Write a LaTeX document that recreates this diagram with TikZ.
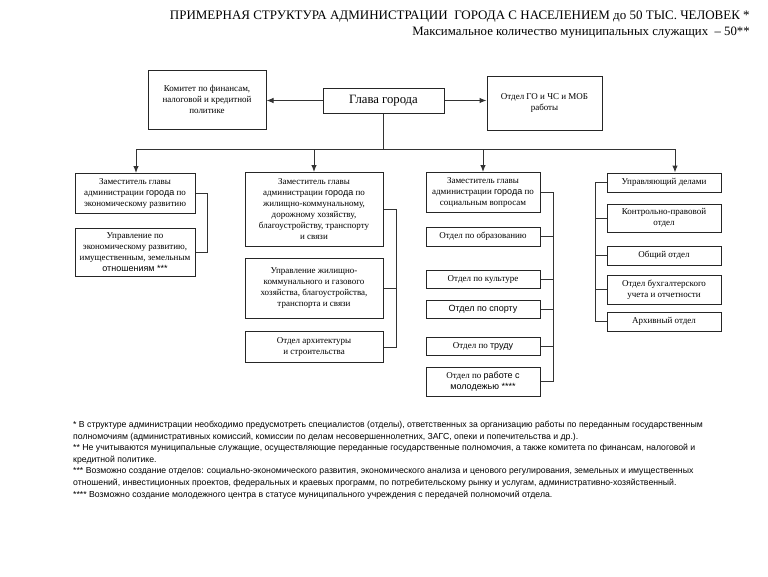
\documentclass[tikz,border=0pt]{standalone}
\usepackage{fontspec}
\setmainfont{Liberation Serif}
\newfontfamily\arialf{Liberation Sans}
\usetikzlibrary{arrows.meta,calc}
\begin{document}
\begin{tikzpicture}[x=1pt,y=-1pt,
 box/.style={draw=black!85, line width=1pt, fill=white, inner sep=0pt, align=center, font=\fontsize{9}{11}\selectfont},
 wire/.style={draw=black!80, line width=1pt},
 arr/.style={wire, -{Latex[length=7pt,width=5.5pt]}}]
\useasboundingbox (0,0) rectangle (768,576);
% titles
\node[anchor=east, font=\fontsize{13}{15}\selectfont, inner sep=0pt] (t1) at (750,17) {ПРИМЕРНАЯ СТРУКТУРА АДМИНИСТРАЦИИ \ ГОРОДА С НАСЕЛЕНИЕМ до 50 ТЫС. ЧЕЛОВЕК *};
\node[anchor=east, font=\fontsize{12.8}{15}\selectfont, inner sep=0pt] (t2) at (750,33) {Максимальное количество муниципальных служащих \ – 50**};
% top row
\node[box, minimum width=118pt, minimum height=59pt] (kom) at (207,99.5) {Комитет по финансам,\\ налоговой и кредитной\\ политике};
\node[box, minimum width=121pt, minimum height=25pt, font=\fontsize{12.7}{14}\selectfont] (glava) at (383.5,100.5) {Глава города};
\node[box, minimum width=115pt, minimum height=54pt] (go) at (544.5,103) {Отдел ГО и ЧС и МОБ\\ работы};
% column 1
\node[box, minimum width=120pt, minimum height=40pt] (d1) at (135,193.5) {Заместитель главы\\ администрации {\arialf города} по\\ экономическому развитию};
\node[box, minimum width=120pt, minimum height=48pt] (u1) at (135,252) {Управление по\\ экономическому развитию,\\ имущественным, земельным\\ {\arialf отношениям ***}};
% column 2
\node[box, minimum width=138pt, minimum height=74pt] (d2) at (314,209.5) {Заместитель главы\\ администрации {\arialf города} по\\ жилищно-коммунальному,\\ дорожному хозяйству,\\ благоустройству, транспорту\\ и связи};
\node[box, minimum width=138pt, minimum height=60pt] (u2) at (314,288) {Управление жилищно-\\ коммунального и газового\\ хозяйства, благоустройства,\\ транспорта и связи};
\node[box, minimum width=138pt, minimum height=31pt] (a2) at (314,347) {Отдел архитектуры\\ и строительства};
% column 3
\node[box, minimum width=114pt, minimum height=40pt] (d3) at (483,192.5) {Заместитель главы\\ администрации {\arialf города} по\\ социальным вопросам};
\node[box, minimum width=114pt, minimum height=19pt] (o1) at (483,236.5) {Отдел по образованию};
\node[box, minimum width=114pt, minimum height=18pt] (o2) at (483,279) {Отдел по культуре};
\node[box, minimum width=114pt, minimum height=18pt] (o3) at (483,309) {{\arialf Отдел по спорту}};
\node[box, minimum width=114pt, minimum height=18pt] (o4) at (483,346) {Отдел по {\arialf труду}};
\node[box, minimum width=114pt, minimum height=29pt] (o5) at (483,381.5) {Отдел по {\arialf работе с}\\ {\arialf молодежью ****}};
% column 4
\node[box, minimum width=114pt, minimum height=19pt] (r1) at (664,182.5) {Управляющий делами};
\node[box, minimum width=114pt, minimum height=28pt] (r2) at (664,218) {Контрольно-правовой\\ отдел};
\node[box, minimum width=114pt, minimum height=19pt] (r3) at (664,255.5) {Общий отдел};
\node[box, minimum width=114pt, minimum height=29pt] (r4) at (664,289.5) {Отдел бухгалтерского\\ учета и отчетности};
\node[box, minimum width=114pt, minimum height=19pt] (r5) at (664,321.5) {Архивный отдел};
% connectors top
\draw[arr] (glava.west) -- (glava.west -| kom.east);
\draw[arr] (glava.east) -- (glava.east -| go.west);
\coordinate (busL) at (136,149);
\coordinate (busR) at (675,149);
\draw[wire] (glava.south) -- (glava.south |- busL);
\draw[wire] (busL) -- (busR);
\draw[arr] (busL) -- (busL |- d1.north);
\draw[arr] (d2.north |- busL) -- (d2.north);
\draw[arr] (d3.north |- busL) -- (d3.north);
\draw[arr] (busR) -- (busR |- r1.north);
% brackets
\coordinate (b1) at (207,0);
\coordinate (b2) at (396,0);
\coordinate (b3) at (553,0);
\coordinate (b4) at (595,0);
\draw[wire] (d1.east) -- (d1.east -| b1) |- (u1.east);
\draw[wire] (d2.east) -- (d2.east -| b2) |- (a2.east);
\draw[wire] (u2.east) -- (u2.east -| b2);
\draw[wire] (d3.east) -- (d3.east -| b3) |- (o5.east);
\draw[wire] (o1.east) -- (o1.east -| b3);
\draw[wire] (o2.east) -- (o2.east -| b3);
\draw[wire] (o3.east) -- (o3.east -| b3);
\draw[wire] (o4.east) -- (o4.east -| b3);
\draw[wire] (r1.west) -- (r1.west -| b4) |- (r5.west);
\draw[wire] (r2.west) -- (r2.west -| b4);
\draw[wire] (r3.west) -- (r3.west -| b4);
\draw[wire] (r4.west) -- (r4.west -| b4);
% footnotes
\node[anchor=north west, align=left, inner sep=0pt, font=\arialf\fontsize{8.7}{11.6}\selectfont] (fn) at (73,421) {%
* В структуре администрации необходимо предусмотреть специалистов (отделы), ответственных за организацию работы по переданным государственным\\
полномочиям (административных комиссий, комиссии по делам несовершеннолетних, ЗАГС, опеки и попечительства и др.).\\
** Не учитываются муниципальные служащие, осуществляющие переданные государственные полномочия, а также комитета по финансам, налоговой и\\
кредитной политике.\\
*** Возможно создание отделов: социально-экономического развития, экономического анализа и ценового регулирования, земельных и имущественных\\
отношений, инвестиционных проектов, федеральных и краевых программ, по потребительскому рынку и услугам, административно-хозяйственный.\\
**** Возможно создание молодежного центра в статусе муниципального учреждения с передачей полномочий отдела.};
\end{tikzpicture}
\end{document}
